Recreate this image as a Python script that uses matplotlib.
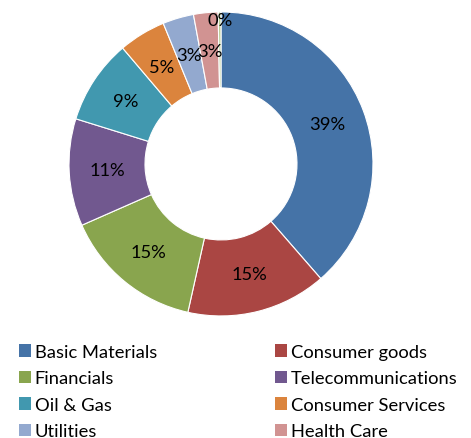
import numpy as np
import matplotlib.pyplot as plt
from matplotlib.patches import Patch

plt.rcParams['font.family'] = ['Lato', 'DejaVu Sans']

sectors = ["Basic Materials", "Consumer goods", "Financials", "Telecommunications",
           "Oil & Gas", "Consumer Services", "Utilities", "Health Care", "Technology"]
shares = [38.6, 14.9, 14.9, 11.4, 9.0, 5.0, 3.3, 2.6, 0.3]
colors = ["#4573A7", "#AA4643", "#89A54E", "#71588F", "#4198AF",
          "#DB843D", "#93A9CF", "#D19392", "#B9CD96"]

fig = plt.figure(figsize=(4.71, 4.39), dpi=100)
ax = fig.add_axes([0.1465, 0.278, 0.6454, 0.6925])

wedges, _ = ax.pie(shares, colors=colors, startangle=90, counterclock=False,
                   radius=1.0, wedgeprops=dict(width=0.5, edgecolor="white", linewidth=0.8))
ax.set_xlim(-1, 1)
ax.set_ylim(-1, 1)
ax.set_aspect("auto")
ax.axis("off")

# percentage labels at the middle of each ring segment
total = sum(shares)
start = 0.0
for v in shares:
    mid = (start + v / 2) / total * 2 * np.pi
    r = 0.75 if v >= 1 else 0.95
    ax.text(r * np.sin(mid), r * np.cos(mid), f"{v / total * 100:.0f}%",
            ha="center", va="center", fontsize=13.2, color="black")
    start += v

order = [0, 2, 4, 6, 1, 3, 5, 7]
handles = [Patch(facecolor=colors[i], edgecolor="none") for i in order]
labels = [sectors[i] for i in order]
fig.legend(handles, labels, ncol=2, loc="upper left", bbox_to_anchor=(0.025, 0.231),
           frameon=False, fontsize=13.2, handlelength=0.65, handleheight=0.65,
           handletextpad=0.2, columnspacing=6.45, labelspacing=0.57, borderaxespad=0)

fig.savefig("out.png", dpi=100)
